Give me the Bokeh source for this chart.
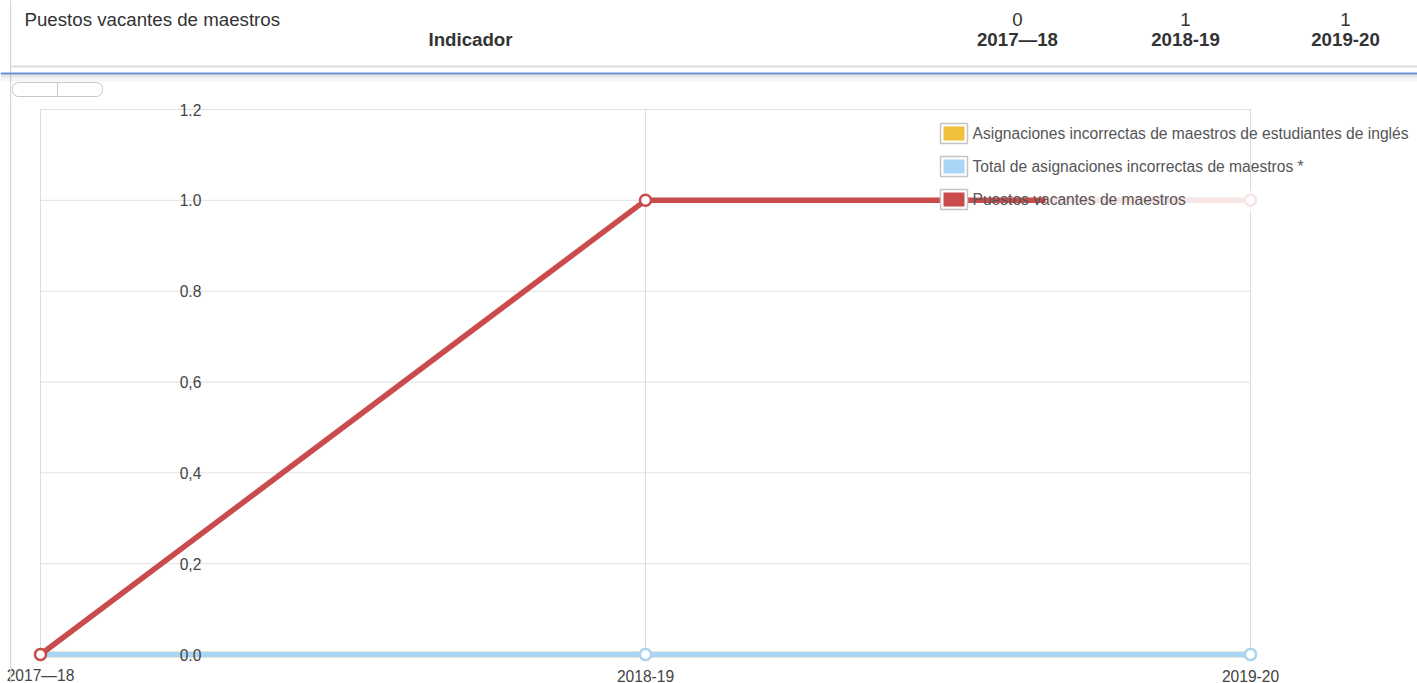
from bokeh.plotting import figure
from bokeh.models import Label, LabelSet, BoxAnnotation, ColumnDataSource, Range1d
from bokeh.embed import file_html
from bokeh.resources import INLINE
from bokeh.core.properties import value

# ---------------- data ----------------
years = ["2017—18", "2018-19", "2019-20"]
series_names = [
    "Asignaciones incorrectas de maestros de estudiantes de inglés",
    "Total de asignaciones incorrectas de maestros *",
    "Puestos vacantes de maestros",
]
ell_misassign = [0, 0, 0]
total_misassign = [0, 0, 0]
vacancies = [0, 1, 1]
y_ticks = [0.0, 0.2, 0.4, 0.6, 0.8, 1.0, 1.2]
y_tick_labels = ["0.0", "0,2", "0,4", "0,6", "0.8", "1.0", "1.2"]
header_title = "Puestos vacantes de maestros"
header_indicator = "Indicador"
header_values = [str(v) for v in vacancies]

# ---------------- style / layout ----------------
COLORS = ["#f0c03c", "#a9d5f7", "#c94b4b"]
FONT = value("Liberation Sans")
TXT = "#333333"
SMALL = "15.6px"
BIG = "18.7px"
W, H = 1417, 683
X0_PX, X2_PX = 40.0, 1250.0          # pixel of first / last category
Y0_PX, Y12_PX = 654.0, 109.0         # pixel of 0 and 1.2
xppu = (X2_PX - X0_PX) / 2.0
yppu = (Y0_PX - Y12_PX) / 1.2

xs = list(range(len(years)))

p = figure(width=W, height=H, output_backend="svg", toolbar_location=None,
           x_axis_location=None, y_axis_location=None,
           x_range=Range1d(-X0_PX / xppu, 2 + (W - X2_PX) / xppu),
           y_range=Range1d(-(H - Y0_PX) / yppu, 1.2 + Y12_PX / yppu))
p.min_border = 0
p.min_border_left = 0
p.min_border_right = 0
p.min_border_top = 0
p.min_border_bottom = 0
p.outline_line_color = None
p.background_fill_color = "white"
p.border_fill_color = "white"
p.xgrid.visible = False
p.ygrid.visible = False

# ---------------- grid (limited to the plotting area) ----------------
p.segment(x0=[xs[0]] * len(y_ticks), x1=[xs[-1]] * len(y_ticks), y0=y_ticks, y1=y_ticks,
          line_color="#e0e0e0", line_width=1)
p.segment(x0=xs, x1=xs, y0=[y_ticks[0]] * len(xs), y1=[y_ticks[-1]] * len(xs),
          line_color="#dcdcdc", line_width=1)

# ---------------- series ----------------
for vals, col in [(ell_misassign, COLORS[0]), (total_misassign, COLORS[1]), (vacancies, COLORS[2])]:
    src = ColumnDataSource(dict(x=xs, y=vals))
    p.line("x", "y", source=src, line_color=col, line_width=5.5)
    p.scatter("x", "y", source=src, size=11, fill_color="white", line_color=col, line_width=2.5)


def sy(page_y):
    return H - page_y


def sbox(l, r, t, b, **kw):
    kw.setdefault("fill_alpha", 1.0)
    kw.setdefault("line_alpha", 1.0)
    kw.setdefault("line_color", None)
    p.add_layout(BoxAnnotation(left=l, right=r, top=sy(t), bottom=sy(b),
                               left_units="screen", right_units="screen",
                               top_units="screen", bottom_units="screen", **kw))


# fade over the right part of the top line (legend overlay)
sbox(1045, 1262, 190, 210, fill_color="white", fill_alpha=0.85)

# ---------------- y tick labels inside the plot ----------------
ysrc = ColumnDataSource(dict(y=y_ticks, t=y_tick_labels))
p.add_layout(LabelSet(x=190, y="y", text="t", source=ysrc, x_units="screen",
                      text_align="center", text_baseline="middle",
                      text_font_size=SMALL, text_color="#444444", text_font=FONT))

# ---------------- x tick labels ----------------
xsrc = ColumnDataSource(dict(x=xs, t=years))
p.add_layout(LabelSet(x="x", y=sy(675), text="t", source=xsrc, y_units="screen",
                      text_align="center", text_baseline="middle",
                      text_font_size=SMALL, text_color="#444444", text_font=FONT))

# ---------------- header ----------------
sbox(9.5, 10.7, 0, H, fill_color="#d6d6d6")                 # vertical rule
sbox(10, W, 65, 67, fill_color="#dddddd")                    # gray rule
sbox(0, W, 72, 74, fill_color="#6a8ed6")                     # blue rule
sbox(0, W, 74, 77, fill_color="#000000", fill_alpha=0.10)
sbox(0, W, 77, 81, fill_color="#000000", fill_alpha=0.04)
sbox(12, 102, 82, 96, fill_color="white", line_color="#c8c8c8", line_width=1,
     border_radius=6)                                          # small button
sbox(56.5, 57.5, 82, 96, fill_color="#c8c8c8")

p.add_layout(Label(x=24, y=sy(19), x_units="screen", y_units="screen", text=header_title,
                   text_align="left", text_baseline="middle", text_font_size=BIG,
                   text_color=TXT, text_font="Liberation Sans"))
p.add_layout(Label(x=470, y=sy(39), x_units="screen", y_units="screen", text=header_indicator,
                   text_align="center", text_baseline="middle", text_font_size=BIG,
                   text_font_style="bold", text_color=TXT, text_font="Liberation Sans"))
col_x = [1017, 1185, 1345]
hsrc = ColumnDataSource(dict(x=col_x, v=header_values, yr=years))
p.add_layout(LabelSet(x="x", y=sy(19), text="v", source=hsrc, x_units="screen", y_units="screen",
                      text_align="center", text_baseline="middle", text_font_size=BIG,
                      text_color=TXT, text_font=FONT))
p.add_layout(LabelSet(x="x", y=sy(39), text="yr", source=hsrc, x_units="screen", y_units="screen",
                      text_align="center", text_baseline="middle", text_font_size=BIG,
                      text_font_style=value("bold"), text_color=TXT, text_font=FONT))

# ---------------- legend (manual) ----------------
for i, (name, col) in enumerate(zip(series_names, COLORS)):
    top = 123 + 33 * i
    sbox(940, 967, top, top + 20, fill_color="white", line_color="#c4c4c4", line_width=1.5)
    sbox(943, 964, top + 3, top + 17, fill_color=col)
    p.add_layout(Label(x=972, y=sy(top + 10), x_units="screen", y_units="screen", text=name,
                       text_align="left", text_baseline="middle", text_font_size=SMALL,
                       text_color="#555555", text_font="Liberation Sans"))

open("out.html", "w").write(file_html(p, INLINE))
